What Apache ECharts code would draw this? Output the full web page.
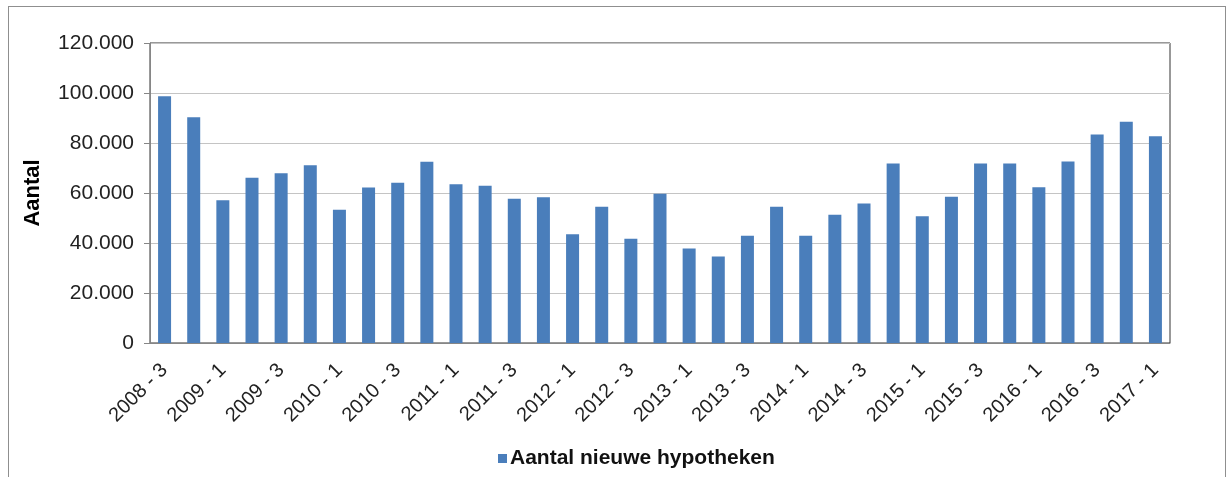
<!DOCTYPE html>
<html>
<head>
<meta charset="utf-8">
<title>Aantal nieuwe hypotheken</title>
<script src="https://cdn.jsdelivr.net/npm/echarts@6/dist/echarts.min.js"></script>
<style>
  html, body { margin: 0; padding: 0; background: #fff; }
  #chart { width: 1227px; height: 477px; }
  #frame {
    position: absolute; left: 8px; top: 6px; width: 1216px; height: 500px;
    border: 1px solid #8f8f8f; pointer-events: none;
  }
</style>
</head>
<body>
<div id="chart"></div>
<div id="frame"></div>
<script>
// kwartalen 2008-3 t/m 2017-1
const quarters = [
  '2008 - 3', '2008 - 4',
  '2009 - 1', '2009 - 2', '2009 - 3', '2009 - 4',
  '2010 - 1', '2010 - 2', '2010 - 3', '2010 - 4',
  '2011 - 1', '2011 - 2', '2011 - 3', '2011 - 4',
  '2012 - 1', '2012 - 2', '2012 - 3', '2012 - 4',
  '2013 - 1', '2013 - 2', '2013 - 3', '2013 - 4',
  '2014 - 1', '2014 - 2', '2014 - 3', '2014 - 4',
  '2015 - 1', '2015 - 2', '2015 - 3', '2015 - 4',
  '2016 - 1', '2016 - 2', '2016 - 3', '2016 - 4',
  '2017 - 1'
]

const nieuweHypotheken = [
  98700, 90300,
  57100, 66100, 67900, 71100,
  53300, 62200, 64100, 72500,
  63500, 62900, 57700, 58300,
  43500, 54500, 41700, 59700,
  37800, 34600, 42900, 54500,
  42900, 51300, 55800, 71800,
  50700, 58500, 71800, 71800,
  62300, 72600, 83400, 88500,
  82700
]

const yTicks = [0, 20000, 40000, 60000, 80000, 100000, 120000]

const fontFamily = '"Liberation Sans", Arial, sans-serif'

function dots(v) {
  return String(v).replace(/\B(?=(\d{3})+(?!\d))/g, '.')
}

const chart = echarts.init(document.getElementById('chart'), null, { renderer: 'canvas' })

chart.setOption({
  animation: false,
  textStyle: { fontFamily },
  grid: {
    left: 150,
    right: 57,
    top: 43,
    bottom: 134,
    show: true,
    borderColor: '#333',
    borderWidth: 1
  },
  legend: {
    bottom: 3,
    left: 493,
    itemWidth: 9,
    itemHeight: 9,
    itemGap: 10,
    icon: 'rect',
    textStyle: { fontSize: 21, fontWeight: 'bold', color: '#111', padding: [0, 0, 0, -2] },
    data: ['Aantal nieuwe hypotheken']
  },
  xAxis: {
    type: 'category',
    data: quarters,
    boundaryGap: true,
    axisLine: { lineStyle: { color: '#868686' } },
    axisTick: { interval: 0, length: 6, lineStyle: { color: '#868686' } },
    axisLabel: {
      interval: 1,
      rotate: 45,
      margin: 24,
      fontSize: 20,
      color: '#222'
    }
  },
  yAxis: {
    type: 'value',
    min: yTicks[0],
    max: yTicks[yTicks.length - 1],
    interval: 20000,
    name: 'Aantal',
    nameLocation: 'middle',
    nameGap: 106,
    nameTextStyle: { fontSize: 22, fontWeight: 'bold', color: '#000' },
    axisLine: { show: true, lineStyle: { color: '#868686' } },
    axisTick: { show: true, length: 6, lineStyle: { color: '#868686' } },
    axisLabel: {
      margin: 16,
      fontSize: 21,
      color: '#222',
      formatter: v => dots(v)
    },
    splitLine: { lineStyle: { color: '#c4c4c4', width: 1 } }
  },
  series: [{
    name: 'Aantal nieuwe hypotheken',
    type: 'bar',
    data: nieuweHypotheken,
    barWidth: 13,
    itemStyle: { color: '#4a7ebb' }
  }]
})
</script>
</body>
</html>
